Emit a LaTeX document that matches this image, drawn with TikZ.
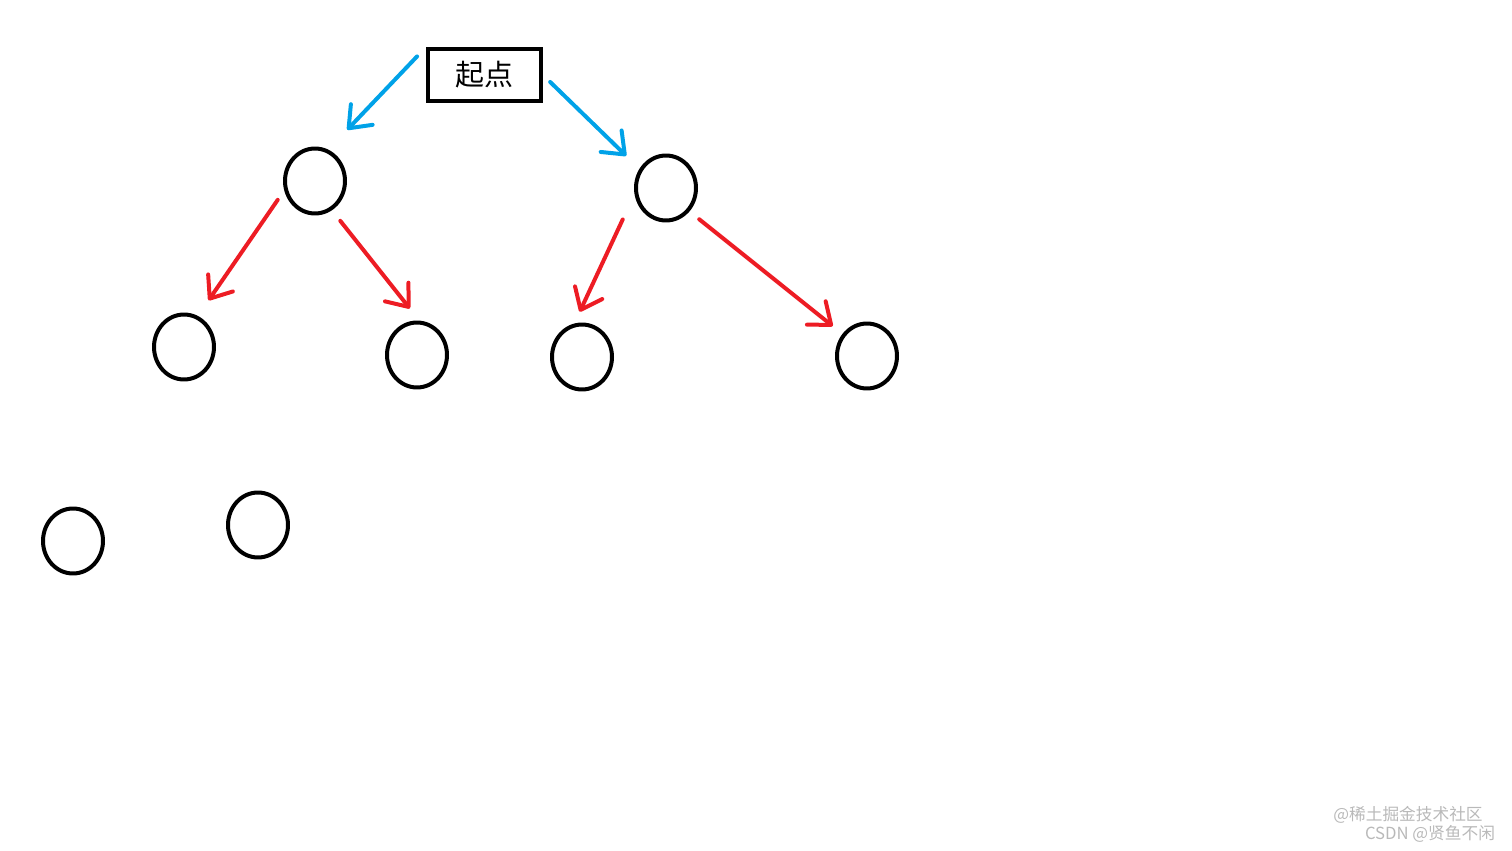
\documentclass[tikz,border=0pt]{standalone}
\usepackage{fontspec}
\newfontfamily\cjk{Noto Sans CJK SC}
\usetikzlibrary{arrows.meta,shapes.geometric}
\definecolor{paintblue}{RGB}{0,162,232}
\definecolor{paintred}{RGB}{237,28,36}
\tikzset{
ring/.style={ellipse,draw,line width=0.08cm,minimum width=1.2cm,minimum height=1.3cm,inner sep=0pt},
startbox/.style={rectangle,draw,line width=0.08cm,minimum width=2.26cm,minimum height=1.04cm,font=\cjk\fontsize{16.5}{18}\selectfont},
hand/.style={line width=0.08cm,line cap=round,-{Straight Barb[length=0.38cm,width=0.6cm,line join=round,line cap=round]}},
wmark/.style={text=gray!55,inner sep=0pt,font=\cjk\fontsize{9.5}{10}\selectfont}
}

\begin{document}
\begin{tikzpicture}[x=0.02cm,y=-0.02cm]
\useasboundingbox (0,0) rectangle (1512,851);
\node[startbox] (start) at (484.5,75) {起点};
\node[ring] (l) at (315,181) {};
\node[ring] (r) at (666,188) {};
\node[ring] (ll) at (184,347) {};
\node[ring] (lr) at (417,355) {};
\node[ring] (rl) at (582,357) {};
\node[ring] (rr) at (867,356) {};
\node[ring] (g1) at (73,541) {};
\node[ring] (g2) at (258,525) {};
%blue: from start
\draw[hand,paintblue,shorten <=0.26cm,shorten >=0.55cm] (start.north west) -- (l.67);
\draw[hand,paintblue,shorten <=0.2cm,shorten >=0.37cm] (start.east) -- (r.144);
%red: next level
\draw[hand,paintred,shorten <=0.23cm,shorten >=0.38cm] (l.197) -- (ll.66);
\draw[hand,paintred,shorten <=0.27cm,shorten >=0.31cm] (l.300) -- (lr.86);
\draw[hand,paintred,shorten <=0.56cm,shorten >=0.26cm] (r.191) -- (rl.103);
\draw[hand,paintred,shorten <=0.25cm,shorten >=0.25cm] (r.315) -- (rr.138);
\node[wmark] (mark1) at (1408,815) {@稀土掘金技术社区};
\node[wmark] (mark2) at (1430,834) {CSDN @贤鱼不闲};
\end{tikzpicture}
\end{document}
